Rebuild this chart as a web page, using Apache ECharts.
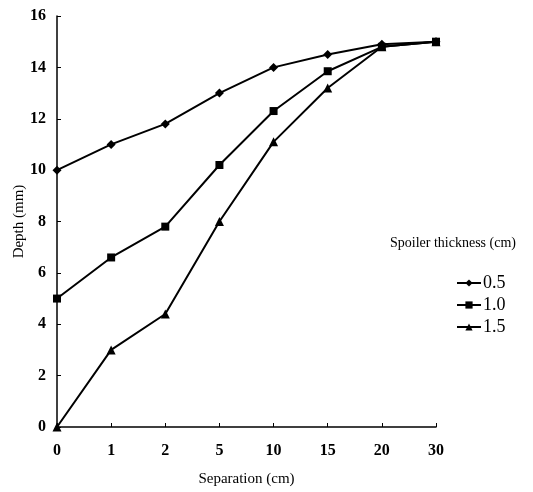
<!DOCTYPE html>
<html>
<head>
<meta charset="utf-8">
<script src="https://cdn.jsdelivr.net/npm/echarts@6/dist/echarts.min.js"></script>
<style>
  html, body { margin: 0; padding: 0; background: #fff; }
  #chart { width: 533px; height: 492px; }
</style>
</head>
<body>
<div id="chart"></div>
<script>
// separation (cm), equally spaced categories
var separations = ['0', '1', '2', '5', '10', '15', '20', '30'];
// depth (mm) for each spoiler thickness
var depth05 = [10, 11, 11.8, 13, 14, 14.5, 14.9, 15];
var depth10 = [5, 6.6, 7.8, 10.2, 12.3, 13.85, 14.8, 15];
var depth15 = [0, 3, 4.4, 8, 11.1, 13.2, 14.8, 15];
var thicknessNames = ['0.5', '1.0', '1.5'];

var serif = 'Liberation Serif';

function makeSeries(name, data, symbol, size) {
    return {
        name: name,
        type: 'line',
        data: data,
        symbol: symbol,
        symbolSize: size,
        lineStyle: { color: '#000', width: 2 },
        itemStyle: { color: '#000' }
    };
}

var chart = echarts.init(document.getElementById('chart'));
var option = {
    animation: false,
    backgroundColor: '#fff',
    title: {
        text: 'Spoiler thickness (cm)',
        left: 385,
        top: 231,
        textStyle: {
            color: '#000',
            fontFamily: serif,
            fontWeight: 'normal',
            fontSize: 14
        }
    },
    legend: {
        orient: 'vertical',
        left: 451,
        top: 269,
        itemGap: 4,
        itemWidth: 24,
        itemHeight: 9,
        data: thicknessNames,
        textStyle: {
            color: '#000',
            fontFamily: serif,
            fontSize: 18,
            padding: [0, 0, 0, -3]
        }
    },
    grid: {
        left: 57,
        right: 97,
        top: 16,
        bottom: 59
    },
    xAxis: {
        type: 'category',
        boundaryGap: false,
        data: separations,
        name: 'Separation (cm)',
        nameLocation: 'middle',
        nameGap: 45,
        nameTextStyle: { color: '#000', fontFamily: serif, fontSize: 15 },
        axisLine: { lineStyle: { color: '#000', width: 1.5 } },
        axisTick: { inside: true, length: 4, lineStyle: { color: '#000' } },
        axisLabel: {
            color: '#000',
            fontFamily: serif,
            fontWeight: 'bold',
            fontSize: 16,
            margin: 16
        },
        splitLine: { show: false }
    },
    yAxis: {
        type: 'value',
        min: 0,
        max: 16,
        interval: 2,
        name: 'Depth (mm)',
        nameLocation: 'middle',
        nameGap: 30,
        nameMoveOverlap: false,
        nameTextStyle: { color: '#000', fontFamily: serif, fontSize: 15 },
        axisLine: { show: true, lineStyle: { color: '#000', width: 1.5 } },
        axisTick: { show: true, inside: true, length: 4, lineStyle: { color: '#000' } },
        axisLabel: {
            color: '#000',
            fontFamily: serif,
            fontWeight: 'bold',
            fontSize: 16,
            margin: 11
        },
        splitLine: { show: false }
    },
    series: [
        makeSeries(thicknessNames[0], depth05, 'diamond', 9),
        makeSeries(thicknessNames[1], depth10, 'rect', 8),
        makeSeries(thicknessNames[2], depth15, 'triangle', 9)
    ]
};
chart.setOption(option);
</script>
</body>
</html>
